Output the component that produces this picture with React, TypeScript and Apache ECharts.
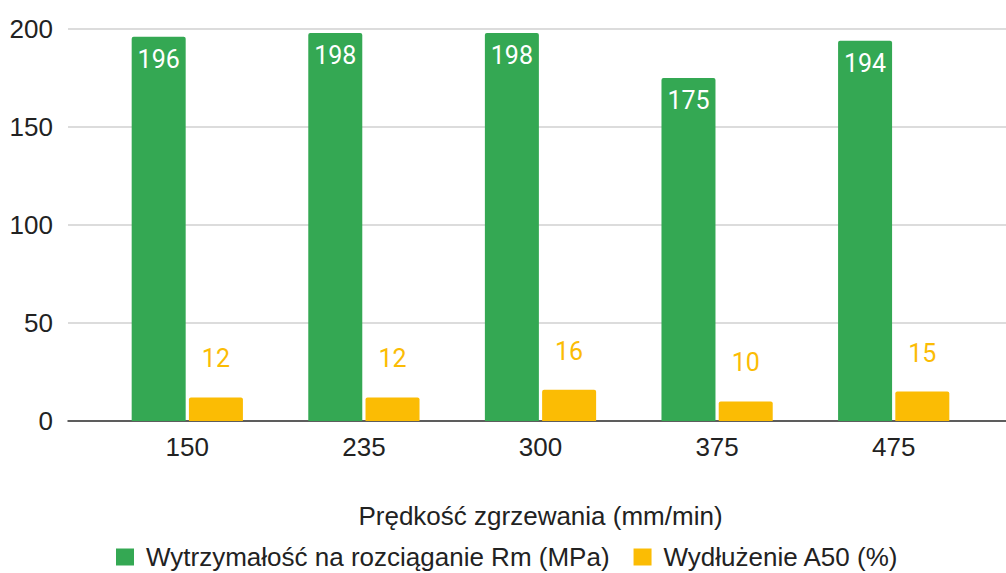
import React, { useEffect, useRef } from "react";
import * as echarts from "echarts";

const categories = ["150", "235", "300", "375", "475"];
const strengthRm = [196, 198, 198, 175, 194];
const elongationA50 = [12, 12, 16, 10, 15];
const seriesNames = ["Wytrzymałość na rozciąganie Rm (MPa)", "Wydłużenie A50 (%)"];
const xAxisTitle = "Prędkość zgrzewania (mm/min)";
const yMin = 0;
const yMax = 200;
const yInterval = 50;

const GREEN = "#34A853";
const YELLOW = "#FBBC04";
const FONT = "Liberation Sans";
const LABEL_FONT = "Roboto";

export default function App() {
  const ref = useRef<HTMLDivElement>(null);
  useEffect(() => {
    if (!ref.current) return;
    const chart = echarts.init(ref.current, undefined, { renderer: "svg" });
    chart.setOption({
      animation: false,
      textStyle: { fontFamily: FONT },
      grid: [
        { left: 68, right: 0, top: 29, bottom: 152 },
        { left: 99, right: 24, top: 29, bottom: 152 },
      ],
      xAxis: [
        {
          gridIndex: 0,
          type: "category",
          data: [""],
          axisLine: { show: true, lineStyle: { color: "#333333", width: 1.5 } },
          axisTick: { show: false },
          axisLabel: { show: false },
        },
        {
          gridIndex: 1,
          type: "category",
          data: categories,
          axisLine: { show: false },
          axisTick: { show: false },
          axisLabel: { color: "#222222", fontSize: 26, margin: 13, fontFamily: FONT },
          name: xAxisTitle,
          nameLocation: "middle",
          nameGap: 82,
          nameTextStyle: { color: "#222222", fontSize: 26, fontFamily: FONT },
        },
      ],
      yAxis: [
        {
          gridIndex: 0,
          type: "value",
          min: yMin,
          max: yMax,
          interval: yInterval,
          axisLine: { show: false },
          axisTick: { show: false },
          axisLabel: { color: "#222222", fontSize: 26, margin: 15, fontFamily: FONT },
          splitLine: { show: true, lineStyle: { color: "#d0d0d0", width: 1.5 } },
        },
        {
          gridIndex: 1,
          type: "value",
          min: yMin,
          max: yMax,
          interval: yInterval,
          show: false,
          splitLine: { show: false },
        },
      ],
      legend: {
        top: 544,
        left: 116,
        padding: 0,
        icon: "rect",
        itemWidth: 18,
        itemHeight: 17,
        itemGap: 24,
        textStyle: { color: "#222222", fontSize: 26, fontFamily: FONT, padding: [0, 0, 0, 7] },
        data: seriesNames,
      },
      series: [
        {
          name: seriesNames[0],
          type: "bar",
          xAxisIndex: 1,
          yAxisIndex: 1,
          data: strengthRm,
          barWidth: 54,
          barGap: "6%",
          itemStyle: { color: GREEN, borderRadius: [2, 2, 0, 0] },
          label: {
            show: true,
            position: "insideTop",
            distance: 10,
            color: "#ffffff",
            fontSize: 25,
            fontFamily: LABEL_FONT,
          },
        },
        {
          name: seriesNames[1],
          type: "bar",
          xAxisIndex: 1,
          yAxisIndex: 1,
          data: elongationA50,
          barWidth: 54,
          itemStyle: { color: YELLOW, borderRadius: [2, 2, 0, 0] },
          label: {
            show: true,
            position: "top",
            distance: 26,
            color: YELLOW,
            fontSize: 25,
            fontFamily: LABEL_FONT,
          },
        },
      ],
    });
    return () => chart.dispose();
  }, []);
  return (
    <div
      ref={ref}
      style={{ position: "fixed", left: 0, top: 0, width: 1006, height: 573, background: "#ffffff" }}
    />
  );
}
